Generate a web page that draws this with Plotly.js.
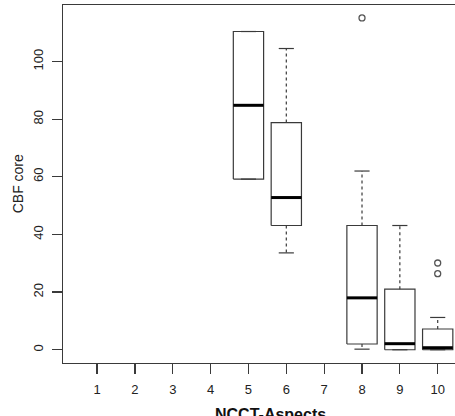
<!DOCTYPE html>
<html>
<head>
<meta charset="utf-8">
<script src="https://cdn.plot.ly/plotly-3.0.1.min.js"></script>
<style>
html,body{margin:0;padding:0;background:#fff;overflow:hidden;}
#chart{width:455px;height:416px;}
</style>
</head>
<body>
<div id="chart"></div>
<script>
// Category tick labels (NCCT-Aspects score)
const tickValues = [1, 2, 3, 4, 5, 6, 7, 8, 9, 10];
const tickLabels = ["1", "2", "3", "4", "5", "6", "7", "8", "9", "10"];

// Groups that have data
const groups      = [5, 6, 8, 9, 10];
const lowerWhisk  = [59.2, 33.6, 0.2, 0.0, 0.0];
const q1          = [59.2, 43.1, 2.0, 0.0, 0.0];
const median      = [84.8, 52.8, 18.0, 2.1, 0.7];
const q3          = [110.4, 78.8, 43.1, 21.0, 7.2];
const upperWhisk  = [110.4, 104.5, 62.0, 43.1, 11.2];

// Outliers
const outlierX = [8, 10, 10];
const outlierY = [115.1, 30.1, 26.4];

const boxHalf = 0.4, capHalf = 0.2;
const lineCol = "#3a3a3a";

const bx = [], by = [], wx = [], wy = [], cx = [], cy = [], mx = [], my = [];
groups.forEach((g, i) => {
  bx.push(g - boxHalf, g + boxHalf, g + boxHalf, g - boxHalf, g - boxHalf, null);
  by.push(q1[i], q1[i], q3[i], q3[i], q1[i], null);
  if (upperWhisk[i] > q3[i]) { wx.push(g, g, null); wy.push(q3[i], upperWhisk[i], null); }
  if (lowerWhisk[i] < q1[i]) { wx.push(g, g, null); wy.push(q1[i], lowerWhisk[i], null); }
  cx.push(g - capHalf, g + capHalf, null, g - capHalf, g + capHalf, null);
  cy.push(upperWhisk[i], upperWhisk[i], null, lowerWhisk[i], lowerWhisk[i], null);
  mx.push(g - boxHalf, g + boxHalf, null);
  my.push(median[i], median[i], null);
});

const traces = [
  {x: wx, y: wy, mode: "lines", line: {color: lineCol, width: 1.2, dash: "3px,3px"}, hoverinfo: "skip"},
  {x: cx, y: cy, mode: "lines", line: {color: lineCol, width: 1.2}, hoverinfo: "skip"},
  {x: bx, y: by, mode: "lines", line: {color: lineCol, width: 1.2}, hoverinfo: "skip"},
  {x: mx, y: my, mode: "lines", line: {color: "#000", width: 3}, hoverinfo: "skip"},
  {x: outlierX, y: outlierY, mode: "markers",
   marker: {symbol: "circle-open", size: 6, color: "#555", line: {width: 1.3, color: "#555"}}, hoverinfo: "skip"}
];

const font = {family: "Liberation Sans, Arial, sans-serif", size: 13, color: "#222"};

const layout = {
  width: 455, height: 416,
  margin: {l: 63, r: 0, t: 5, b: 53, pad: 0},
  paper_bgcolor: "#fff", plot_bgcolor: "#fff",
  showlegend: false,
  font: font,
  xaxis: {
    range: [0.1, 10.457], tickmode: "array", tickvals: tickValues, ticktext: tickLabels,
    showgrid: false, zeroline: false, showline: true, mirror: true, linecolor: lineCol, linewidth: 1.2,
    ticks: "outside", ticklen: 10, tickcolor: lineCol, tickwidth: 1.2, tickfont: font,
    ticklabelstandoff: 4
  },
  yaxis: {
    range: [-4.6, 119.6], tickmode: "array", tickvals: [0, 20, 40, 60, 80, 100],
    showgrid: false, zeroline: false, showline: true, mirror: false, linecolor: lineCol, linewidth: 1.2,
    ticks: "outside", ticklen: 10, tickcolor: lineCol, tickwidth: 1.2, tickfont: font,
    tickangle: -90, ticklabelstandoff: 4
  },
  annotations: [
    {text: "NCCT-Aspects", xref: "paper", yref: "paper", x: 0.530, y: 0, xanchor: "center", yanchor: "middle",
     yshift: -51.5, showarrow: false, font: {family: "Liberation Sans, Arial, sans-serif", size: 16, color: "#111", weight: "bold"}},
    {text: "CBF core", xref: "paper", yref: "paper", x: -0.114, y: 0.5, xanchor: "center", yanchor: "middle",
     textangle: -90, showarrow: false, font: {family: "Liberation Sans, Arial, sans-serif", size: 14, color: "#222"}}
  ]
};

Plotly.newPlot("chart", traces, layout, {displayModeBar: false, staticPlot: true});
</script>
</body>
</html>
